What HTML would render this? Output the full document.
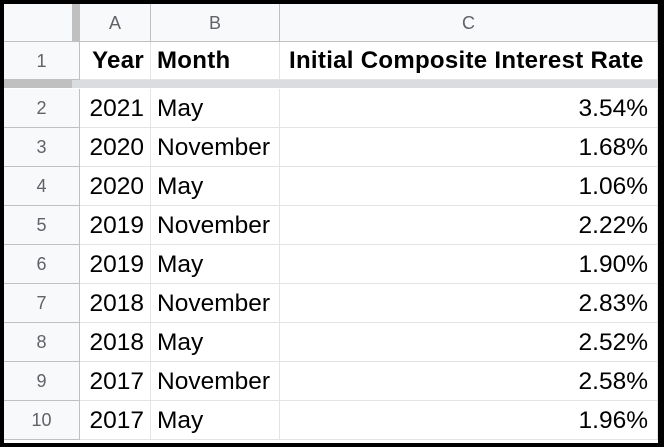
<!DOCTYPE html>
<html><head><meta charset="utf-8"><style>
body{margin:0;width:664px;height:447px;background:#000;overflow:hidden;font-family:"Liberation Sans",Arial,sans-serif}
#s{position:absolute;left:4px;top:4px;width:654px;height:439px;background:#fff;overflow:hidden}
.c{position:absolute;box-sizing:border-box;border-right:1px solid #e2e3e3;border-bottom:1px solid #e2e3e3;font-size:24.5px;color:#000;white-space:nowrap;line-height:38px;padding:0 6px}
.h{background:#f8f9fa;color:#5f6368;font-size:18px;text-align:center;border-color:#c0c0c0;padding:0}
.b{font-weight:bold;font-size:24px;letter-spacing:0.3px}
.r{text-align:right}
</style></head><body>
<div id="s">
<div class="c h" style="left:0;top:0;width:76px;height:38px"></div>
<div style="position:absolute;left:68px;top:0;width:8px;height:38px;background:#c0c0c0"></div>
<div class="c h" style="left:76px;top:0;width:71px;height:38px">A</div>
<div class="c h" style="left:147px;top:0;width:129px;height:38px">B</div>
<div class="c h" style="left:276px;top:0;width:378px;height:38px">C</div>
<div id="rows"></div>
<div style="position:absolute;left:0;top:76px;width:654px;height:8px;background:#dadce0"></div>
<div style="position:absolute;left:0;top:76px;width:68px;height:8px;background:#c0c0c0"></div>
</div>
<script>
const years=["Year","2021","2020","2020","2019","2019","2018","2018","2017","2017"];
const months=["Month","May","November","May","November","May","November","May","November","May"];
const rates=["Initial Composite Interest Rate","3.54%","1.68%","1.06%","2.22%","1.90%","2.83%","2.52%","2.58%","1.96%"];
const R=document.getElementById('rows');
function cell(cls,l,t,w,h,txt){const d=document.createElement('div');d.className='c '+cls;d.style.cssText=`left:${l}px;top:${t}px;width:${w}px;height:${h}px;line-height:${h}px`;d.textContent=txt;R.appendChild(d);return d;}
for(let i=0;i<10;i++){
 const t=i==0?38:85+(i-1)*39;const h=i==0?38:39;
 const n=cell('h',0,t,76,h,String(i+1));
 
 
 const b=i==0?' b':'';
 const a=cell('r'+b,76,t,71,h,years[i]);
 
 
 const m=cell(b.trim(),147,t,129,h,months[i]);
 
 
 const c=cell(i==0?'b':'r',276,t,378,h,rates[i]);
 
 
 if(i==0)c.style.paddingLeft='9px'; else c.style.paddingRight='9px';
}
</script>
</body></html>
